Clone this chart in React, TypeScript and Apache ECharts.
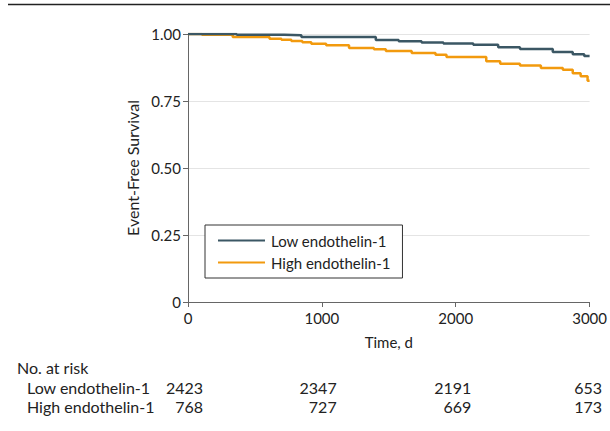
import React, { useEffect, useRef } from "react";
import * as echarts from "echarts";

const lowName = "Low endothelin-1";
const highName = "High endothelin-1";

// [time (d), event-free survival]
const lowSurvival: [number, number][] = [
  [0, 1.0], [364, 0.997], [720, 0.995], [847, 0.989], [1403, 0.978],
  [1574, 0.973], [1745, 0.968], [1908, 0.965], [2131, 0.96], [2317, 0.951],
  [2480, 0.944], [2725, 0.933], [2874, 0.924], [2960, 0.918], [3000, 0.916],
];
const highSurvival: [number, number][] = [
  [0, 1.0], [104, 0.997], [334, 0.989], [609, 0.982], [698, 0.979],
  [772, 0.974], [854, 0.969], [921, 0.964], [1032, 0.958], [1203, 0.948],
  [1389, 0.943], [1478, 0.937], [1671, 0.929], [1849, 0.923], [1931, 0.914],
  [2228, 0.898], [2332, 0.889], [2480, 0.882], [2636, 0.873], [2800, 0.867],
  [2874, 0.854], [2933, 0.842], [2985, 0.826], [3000, 0.826],
];

const riskTimes = [0, 1000, 2000, 3000];
const lowAtRisk = [2423, 2347, 2191, 653];
const highAtRisk = [768, 727, 669, 173];

const xTicks = [0, 1000, 2000, 3000];

const FONT = "Lato";
const FS = 15;
const TFS = 16;
const TXT = "#222";
const LOW_COLOR = "#3b5764";
const HIGH_COLOR = "#f29a0e";

const W = 610;
const H = 431;
const GRID_LEFT = 188;
const GRID_RIGHT = 18;
const GRID_TOP = 34;
const GRID_BOTTOM = 129;

export default function App() {
  const ref = useRef<HTMLDivElement>(null);
  useEffect(() => {
    if (!ref.current) return;
    const chart = echarts.init(ref.current, null, { renderer: "svg" });
    const plotW = W - GRID_LEFT - GRID_RIGHT;
    const xPix = (t: number) => GRID_LEFT + (t / xTicks[xTicks.length - 1]) * plotW;
    const colOffsets = [15, 14, 14, 10];
    const riskTexts: any[] = [];
    const rows: [number[], number][] = [
      [lowAtRisk, 387],
      [highAtRisk, 406],
    ];
    rows.forEach(([vals, y]) => {
      vals.forEach((v, i) => {
        riskTexts.push({
          type: "text",
          x: xPix(riskTimes[i]) + colOffsets[i],
          y,
          style: {
            text: String(v),
            fill: TXT,
            font: `${TFS}px ${FONT}`,
            textAlign: "right",
            textVerticalAlign: "middle",
          },
        });
      });
    });
    chart.setOption({
      animation: false,
      backgroundColor: "#fff",
      textStyle: { fontFamily: FONT },
      grid: { left: GRID_LEFT, right: GRID_RIGHT, top: GRID_TOP, bottom: GRID_BOTTOM },
      xAxis: {
        type: "value",
        min: 0,
        max: 3000,
        interval: 1000,
        name: "Time, d",
        nameLocation: "middle",
        nameGap: 32,
        nameTextStyle: { fontSize: FS, color: TXT, fontFamily: FONT },
        axisLine: { show: true, lineStyle: { color: "#666", width: 1 } },
        axisTick: { show: true, length: 5, lineStyle: { color: "#666" } },
        axisLabel: {
          fontSize: FS,
          color: TXT,
          margin: 8,
          fontFamily: FONT,
          formatter: (v: number) => String(v),
        },
        splitLine: { show: false },
      },
      yAxis: {
        type: "value",
        min: 0,
        max: 1,
        interval: 0.25,
        name: "Event-Free Survival",
        nameLocation: "middle",
        nameGap: 46,
        nameTextStyle: { fontSize: 16, color: TXT, fontFamily: FONT },
        axisLine: { show: true, lineStyle: { color: "#666", width: 1 } },
        axisTick: { show: true, length: 5, lineStyle: { color: "#666" } },
        axisLabel: {
          fontSize: FS,
          color: TXT,
          margin: 7,
          fontFamily: FONT,
          formatter: (v: number) => (v === 0 ? "0" : v.toFixed(2)),
        },
        splitLine: { show: true, lineStyle: { color: "#e4e4e4", width: 1 } },
      },
      legend: {
        orient: "vertical",
        left: 205,
        top: 225,
        padding: [8, 12, 8, 13],
        itemGap: 7,
        itemWidth: 47,
        itemHeight: 2,
        icon: "rect",
        borderColor: "#333",
        borderWidth: 1,
        backgroundColor: "#fff",
        textStyle: { fontSize: FS, color: TXT, fontFamily: FONT, padding: [0, 0, 0, 1] },
        data: [lowName, highName],
      },
      series: [
        {
          name: lowName,
          type: "line",
          step: "end",
          showSymbol: false,
          symbol: "none",
          data: lowSurvival,
          color: LOW_COLOR,
          lineStyle: { color: LOW_COLOR, width: 2.5 },
          z: 3,
        },
        {
          name: highName,
          type: "line",
          step: "end",
          showSymbol: false,
          symbol: "none",
          data: highSurvival,
          color: HIGH_COLOR,
          lineStyle: { color: HIGH_COLOR, width: 2.5 },
          z: 2,
        },
      ],
      graphic: [
        {
          type: "line",
          shape: { x1: 8, y1: 4.5, x2: 610, y2: 4.5 },
          style: { stroke: "#222", lineWidth: 1.5 },
        },
        {
          type: "text",
          x: 17,
          y: 367,
          style: { text: "No. at risk", fill: TXT, font: `${TFS}px ${FONT}`, textVerticalAlign: "middle" },
        },
        {
          type: "text",
          x: 27,
          y: 387,
          style: { text: lowName, fill: TXT, font: `${TFS}px ${FONT}`, textVerticalAlign: "middle" },
        },
        {
          type: "text",
          x: 27,
          y: 406,
          style: { text: highName, fill: TXT, font: `${TFS}px ${FONT}`, textVerticalAlign: "middle" },
        },
        ...riskTexts,
      ],
    });
    return () => chart.dispose();
  }, []);
  return <div ref={ref} style={{ width: W, height: H, position: "absolute", left: 0, top: 0 }} />;
}
